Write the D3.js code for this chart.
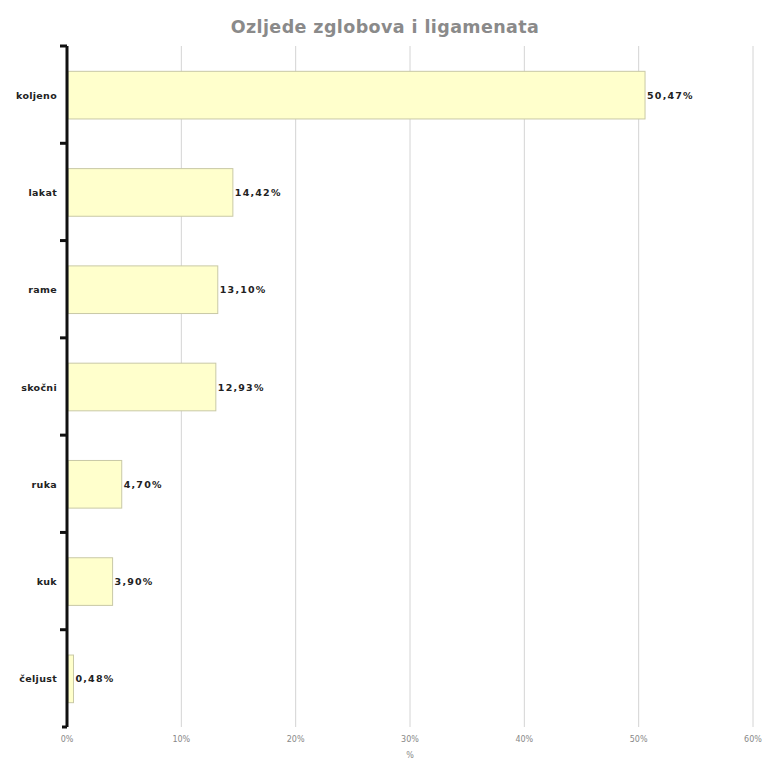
<!DOCTYPE html>
<html><head><meta charset="utf-8">
<script src="https://cdn.jsdelivr.net/npm/d3@7"></script>
<style>body{margin:0;background:#fff}</style>
</head><body>
<svg id="c" width="764" height="761"></svg>
<script>
const categories = ["koljeno","lakat","rame","skočni","ruka","kuk","čeljust"];
const values = [50.47,14.42,13.10,12.93,4.70,3.90,0.48];
const valueLabels = ["50,47%","14,42%","13,10%","12,93%","4,70%","3,90%","0,48%"];
const tickValues = [0,10,20,30,40,50,60];
const tickLabels = ["0%","10%","20%","30%","40%","50%","60%"];
const title = "Ozljede zglobova i ligamenata";
const xTitle = "%";

(function(){
const svg = d3.select("#c");
const pl = 67, pr = 753, pt = 46, pb = 727;
const x = d3.scaleLinear().domain([0,60]).range([pl,pr]);
const y = d3.scaleBand().domain(categories).range([pt,pb]).paddingInner(0.5).paddingOuter(0.25);

svg.append("text").attr("x",385).attr("y",33).attr("text-anchor","middle")
  .attr("font-family","DejaVu Sans").attr("font-weight","bold").attr("font-size",17.5)
  .attr("letter-spacing",0.4)
  .attr("fill","#8a8a8a").text(title);

svg.append("g").selectAll("line").data(tickValues.slice(1)).join("line")
  .attr("x1",d=>x(d)).attr("x2",d=>x(d)).attr("y1",pt).attr("y2",pb)
  .attr("stroke","#d4d4d4").attr("stroke-width",1);

svg.append("g").selectAll("text").data(tickValues).join("text")
  .attr("x",d=>x(d)).attr("y",742).attr("text-anchor","middle")
  .attr("font-family","DejaVu Sans").attr("font-size",8).attr("fill","#888")
  .text((d,i)=>tickLabels[i]);
svg.append("text").attr("x",410).attr("y",758).attr("text-anchor","middle")
  .attr("font-family","DejaVu Sans").attr("font-size",8).attr("fill","#888").text(xTitle);

svg.append("g").selectAll("rect").data(values).join("rect")
  .attr("x",x(0)+1).attr("y",(d,i)=>y(categories[i])+1)
  .attr("width",d=>x(d)-x(0)).attr("height",y.bandwidth()-1)
  .attr("fill","#ffffcc").attr("stroke","#c9c9a6").attr("stroke-width",1);

svg.append("g").selectAll("text").data(values).join("text")
  .attr("x",d=>x(d)+3).attr("y",(d,i)=>y(categories[i])+y.bandwidth()/2+4)
  .attr("font-family","DejaVu Sans").attr("font-weight","bold").attr("font-size",9.5)
  .attr("letter-spacing",1.2)
  .attr("fill","#222").text((d,i)=>valueLabels[i]);

const step = (pb-pt)/categories.length;
const bounds = d3.range(categories.length+1).map(i=>pt+i*step);
svg.append("line").attr("x1",pl).attr("x2",pl).attr("y1",pt).attr("y2",pb)
  .attr("stroke","#111").attr("stroke-width",3);
svg.append("g").selectAll("line").data(bounds).join("line")
  .attr("x1",(d,i)=>i===bounds.length-1?pl-5:pl-7).attr("x2",pl)
  .attr("y1",d=>d).attr("y2",d=>d).attr("stroke","#111").attr("stroke-width",3);

svg.append("g").selectAll("text").data(categories).join("text")
  .attr("x",57).attr("y",d=>y(d)+y.bandwidth()/2+4).attr("text-anchor","end")
  .attr("font-family","DejaVu Sans").attr("font-weight","bold").attr("font-size",9.5)
  .attr("letter-spacing",0.3)
  .attr("fill","#222").text(d=>d);
})();
</script>
</body></html>
